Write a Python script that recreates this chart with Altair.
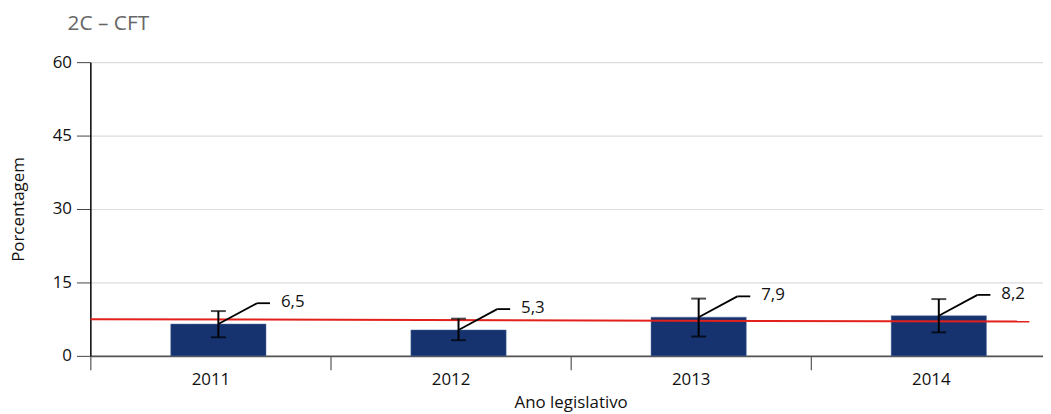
import altair as alt
import pandas as pd

years = ["2011", "2012", "2013", "2014"]
values = [6.5, 5.3, 7.9, 8.2]
err_low = [3.8, 3.2, 3.95, 4.8]
err_high = [9.15, 7.6, 11.7, 11.6]
labels = ["6,5", "5,3", "7,9", "8,2"]
trend_start = 7.5
trend_end = 7.0

FONT = "Open Sans"
BAR = "#163370"
FS = 17

df = pd.DataFrame({"year": years, "value": values, "lo": err_low,
                   "hi": err_high, "label": labels})
trend_df = pd.DataFrame({"x0": [years[0]], "x1": [years[-1]],
                         "y0": [trend_start], "y1": [trend_end]})

# band scale extends a little past the visible plot edge, as in the original
xscale = alt.Scale(domain=years, paddingInner=0, paddingOuter=0, range=[0, 968])
yscale = alt.Scale(domain=[0, 60])

x_axis = alt.Axis(title="Ano legislativo", labelAngle=0, tickBand="extent",
                  tickSize=14, tickColor="#333", domainColor="#555",
                  domainWidth=2, labelPadding=2, titlePadding=7, grid=False)
y_axis = alt.Axis(title="Porcentagem", values=[0, 15, 30, 45, 60],
                  tickSize=14, tickColor="#444", domainColor="#000",
                  domainWidth=1.5, labelPadding=5, titlePadding=25,
                  gridColor="#dcdcdc", gridWidth=1.2)

base = alt.Chart(df)
X = alt.X("year:N", scale=xscale, axis=x_axis)
OFF = 8

bars = base.mark_bar(color=BAR, size=96, xOffset=OFF, stroke="#5a72a0",
                     strokeWidth=0.5).encode(
    x=X, y=alt.Y("value:Q", scale=yscale, axis=y_axis))

err = base.mark_rule(color="black", strokeWidth=2, xOffset=OFF).encode(
    x=alt.X("year:N"), y="lo:Q", y2="hi:Q")
cap_lo = base.mark_tick(color="black", size=15, thickness=2, xOffset=OFF).encode(
    x=alt.X("year:N"), y="lo:Q")
cap_hi = base.mark_tick(color="black", size=15, thickness=2, xOffset=OFF).encode(
    x=alt.X("year:N"), y="hi:Q")

diag = base.mark_rule(color="black", strokeWidth=1.8, xOffset=OFF,
                      x2Offset=OFF + 39, y2Offset=-21).encode(
    x=alt.X("year:N", bandPosition=0.5),
    x2=alt.X2("year", bandPosition=0.5),
    y="value:Q", y2="value")
horiz = base.mark_rule(color="black", strokeWidth=1.8, xOffset=OFF + 39,
                       x2Offset=OFF + 52, yOffset=-21).encode(
    x=alt.X("year:N", bandPosition=0.5),
    x2=alt.X2("year", bandPosition=0.5),
    y="value:Q")
text = base.mark_text(align="left", baseline="middle", dx=OFF + 63, dy=-22,
                      font=FONT, fontSize=FS, color="#111").encode(
    x=alt.X("year:N"), y="value:Q", text="label:N")

trend = alt.Chart(trend_df).mark_rule(color="#e3211c", strokeWidth=2).encode(
    x=alt.X("x0:N", bandPosition=0),
    x2=alt.X2("x1", bandPosition=0.91),
    y="y0:Q", y2="y1")

chart = alt.layer(bars, trend, err, cap_lo, cap_hi, diag, horiz, text).properties(
    width=960, height=296,
    title=alt.TitleParams("2C – CFT", anchor="start", frame="group", dx=-23,
                          font=FONT, fontSize=21, fontWeight="normal",
                          color="#666", offset=19),
    autosize=alt.AutoSizeParams(type="none"),
    padding={"left": 83, "top": 53, "right": 0, "bottom": 56},
).configure_view(stroke=None).configure_axis(
    labelFont=FONT, titleFont=FONT, labelFontSize=FS, titleFontSize=FS,
    labelColor="#111", titleColor="#111", titleFontWeight="normal")

chart.save("out.html", embed_options={"renderer": "svg", "actions": False})
